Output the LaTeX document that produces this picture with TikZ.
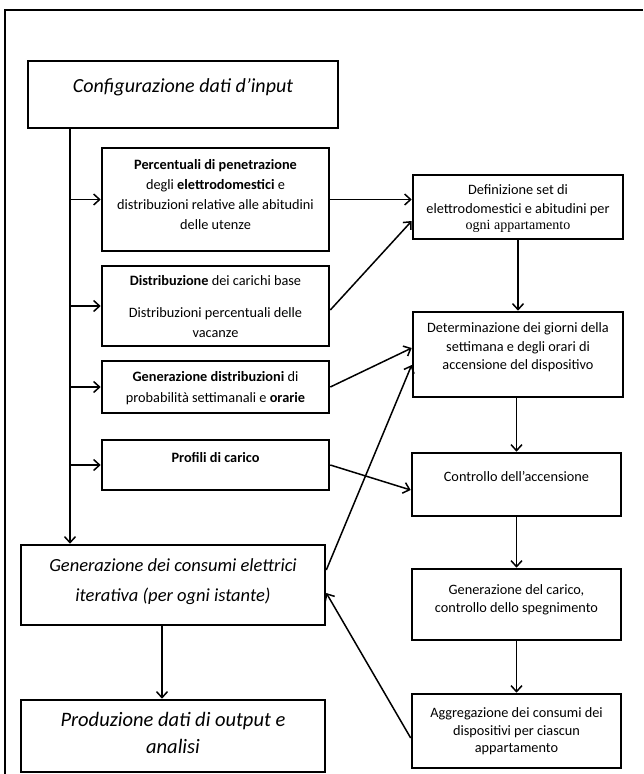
\documentclass[tikz,border=0pt]{standalone}
\usepackage{fontspec}
\setmainfont{Carlito}
\newfontfamily\serifpart{Liberation Serif}
\usetikzlibrary{arrows.meta,calc}

\begin{document}
\begin{tikzpicture}[x=1pt,y=-1pt,
  box/.style={draw, line width=2.6pt, inner sep=0pt},
  arr/.style={line width=1.5pt, -{Straight Barb[length=6pt,width=11pt,line width=1.5pt]}},
  small/.style={anchor=base, font=\fontsize{14.3}{17}\selectfont},
  big/.style={anchor=base, font=\fontsize{18.5}{22}\selectfont\itshape}]

\useasboundingbox (0,0) rectangle (643,774);

% outer frame (only top and left edges fall inside the page)
\draw[line width=2.4pt] (5,774) -- (5,10) -- (643,10);

% boxes
\node[box, minimum width=310pt, minimum height=67pt] (cfg) at (183,94.5) {};
\node[box, minimum width=227pt, minimum height=103pt] (b1) at (215.5,199.5) {};
\node[box, minimum width=227pt, minimum height=80pt] (b2) at (215.5,306) {};
\node[box, minimum width=227pt, minimum height=52pt] (b3) at (215.5,387) {};
\node[box, minimum width=227pt, minimum height=50pt] (b4) at (215.5,465) {};
\node[box, minimum width=210pt, minimum height=64pt] (r1) at (518,207) {};
\node[box, minimum width=210pt, minimum height=85pt] (r2) at (518,354.5) {};
\node[box, minimum width=209pt, minimum height=63pt] (r3) at (516.5,484.5) {};
\node[box, minimum width=209pt, minimum height=71pt] (r4) at (516.5,604.5) {};
\node[box, minimum width=209pt, minimum height=74pt] (r5) at (516.5,731) {};
\node[box, minimum width=304pt, minimum height=80pt] (gen) at (173,585) {};
\node[box, minimum width=304pt, minimum height=72pt] (prod) at (173,736) {};

% texts
\node[big, font=\fontsize{20}{24}\selectfont\itshape] (cfg-t) at (183,92.5) {Configurazione dati d’input};

\node[small] (b1-t1) at (215.5,169.5) {\bfseries Percentuali di penetrazione};
\node[small] (b1-t2) at (215.5,189.5) {degli \textbf{elettrodomestici} e};
\node[small] (b1-t3) at (215.5,209.5) {distribuzioni relative alle abitudini};
\node[small] (b1-t4) at (215.5,229.5) {delle utenze};

\node[small] (b2-t1) at (215.5,285.5) {\textbf{Distribuzione} dei carichi base};
\node[small] (b2-t2) at (215.5,317.5) {Distribuzioni percentuali delle};
\node[small] (b2-t3) at (215.5,337.5) {vacanze};

\node[small] (b3-t1) at (215.5,381.5) {\textbf{Generazione distribuzioni} di};
\node[small] (b3-t2) at (215.5,402.5) {probabilità settimanali e \textbf{orarie}};

\node[small] (b4-t1) at (215.5,462.5) {\bfseries Profili di carico};

\node[small] (r1-t1) at (518,194.5) {Definizione set di};
\node[small] (r1-t2) at (518,213.5) {elettrodomestici e abitudini per};
\node[small, font=\fontsize{14}{17}\selectfont\serifpart] (r1-t3) at (518,229.5) {ogni appartamento};

\node[small] (r2-t1) at (518,332.5) {Determinazione dei giorni della};
\node[small] (r2-t2) at (518,351.5) {settimana e degli orari di};
\node[small] (r2-t3) at (518,369.5) {accensione del dispositivo};

\node[small] (r3-t1) at (516.5,481.5) {Controllo dell’accensione};

\node[small] (r4-t1) at (516.5,594.5) {Generazione del carico,};
\node[small] (r4-t2) at (516.5,612.5) {controllo dello spegnimento};

\node[small] (r5-t1) at (516.5,717.5) {Aggregazione dei consumi dei};
\node[small] (r5-t2) at (516.5,735) {dispositivi per ciascun};
\node[small] (r5-t3) at (516.5,752.5) {appartamento};

\node[big] (gen-t1) at (173,571) {Generazione dei consumi elettrici};
\node[big] (gen-t2) at (173,601) {iterativa (per ogni istante)};

\node[big, font=\fontsize{20.5}{24}\selectfont\itshape] (prod-t1) at (173,726.5) {Produzione dati di output e};
\node[big, font=\fontsize{20.5}{24}\selectfont\itshape] (prod-t2) at (173,753.5) {analisi};

% input trunk and its branches
\coordinate (tk) at (70,128);
\draw[arr] (tk) -- (tk |- gen.north);
\foreach \b in {b1,b2,b3,b4}
  \draw[arr] (tk |- \b.west) -- (\b.west);

% input data feeding the per-appliance steps
\draw[arr] (b1.east) -- (b1.east -| r1.west);
\draw[arr] ([yshift=-4pt]b2.east) -- ([yshift=-14pt]r1.west);
\draw[arr] (b3.east) -- ([yshift=6.5pt]r2.west);
\draw[arr] (b4.east) -- ([yshift=-5.5pt]r3.west);

% per-appliance chain
\draw[arr] (r1.south) -- (r2.north);
\draw[arr] (r2.south -| r3.north) -- (r3.north);
\draw[arr] (r3.south) -- (r4.north);
\draw[arr] (r4.south) -- (r5.north);

% iteration loop
\draw[arr] ([yshift=15pt]gen.east) -- ([yshift=-10.5pt]r2.west);
\draw[arr] ([yshift=-7pt]r5.west) -- ([yshift=-8pt]gen.east);

% output
\draw[arr] ([xshift=-11pt]gen.south) -- ([xshift=-11pt]prod.north);

\end{tikzpicture}
\end{document}
